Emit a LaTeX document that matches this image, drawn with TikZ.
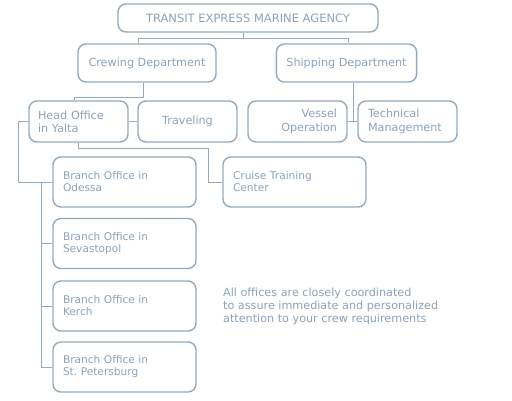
\documentclass[tikz,border=0pt]{standalone}
\usepackage{fontspec}
\setmainfont{DejaVu Sans}
\frenchspacing
\definecolor{linec}{HTML}{93AABE}
\definecolor{textc}{HTML}{8BA2B7}
\tikzset{
  box/.style={draw=linec, line width=1.4pt, rounded corners=8pt, text=textc, inner xsep=10pt, inner ysep=0pt},
  bigf/.style={font=\fontsize{11.2}{13.3}\selectfont},
  smallf/.style={font=\fontsize{10.6}{12}\selectfont},
  conn/.style={draw=linec, line width=1pt},
}
\begin{document}
\begin{tikzpicture}[x=1pt,y=-1pt]
\useasboundingbox (0,0) rectangle (512,400);
% boxes
\node[box, font=\fontsize{11.5}{13}\selectfont, minimum width=260pt, minimum height=28pt] (title) at (248,18) {TRANSIT EXPRESS MARINE AGENCY};
\node[box, bigf, minimum width=138pt, minimum height=38pt] (crew) at (147,63) {Crewing Department};
\node[box, bigf, minimum width=137pt, minimum height=38pt] (ship) at (346.5,63) {Shipping Department};
\node[box, bigf, text width=81pt, inner xsep=9pt, align=left, minimum height=41pt] (head) at (78.5,121.5) {Head Office\\in Yalta};
\node[box, bigf, minimum width=99pt, minimum height=41pt] (trav) at (187.5,121.5) {Traveling};
\node[box, bigf, text width=79pt, align=right, minimum height=41pt] (vessel) at (297.5,121.5) {Vessel\\Operation};
\node[box, bigf, text width=79pt, align=left, minimum height=41pt] (tech) at (407.5,121.5) {Technical\\Management};
\node[box, smallf, text width=123pt, align=left, minimum height=50pt] (cruise) at (294.5,182) {Cruise Training\\Center};
\node[box, smallf, text width=123pt, align=left, minimum height=50pt] (odessa) at (124.5,182) {Branch Office in\\Odessa};
\node[box, smallf, text width=123pt, align=left, minimum height=50pt] (sev) at (124.5,243.5) {Branch Office in\\Sevastopol};
\node[box, smallf, text width=123pt, align=left, minimum height=50pt] (kerch) at (124.5,306) {Branch Office in\\Kerch};
\node[box, smallf, text width=123pt, align=left, minimum height=50pt] (stp) at (124.5,367) {Branch Office in\\St. Petersburg};
\node[text=textc, font=\fontsize{11.2}{13}\selectfont, align=left, anchor=west, inner sep=0pt] (note) at (223,306) {All offices are closely coordinated\\to assure immediate and personalized\\attention to your crew requirements};
% connectors
\draw[conn] ([xshift=-5pt]title.south) -- ++(0,6) coordinate (tj);
\draw[conn] ([xshift=-9pt]crew.north) |- (tj) -| ([xshift=1.5pt]ship.north);
\draw[conn] ([xshift=-4pt]crew.south) -- ++(0,15) -| ([xshift=-4.5pt]head.north);
\draw[conn] (head) -- (trav);
\draw[conn] (vessel) -- (tech);
\draw[conn] ([xshift=6.5pt]ship.south) -- ([xshift=6.5pt]ship.south |- vessel.east);
\coordinate (cj) at (208,182);
\draw[conn] (head.south) -- ++(0,6) -| (cj) -- (cruise.west);
\draw[conn] (head.west) -- ++(-10,0) |- (odessa.west);
\coordinate (bj) at (41,0);
\draw[conn] (bj |- odessa.west) |- (stp.west);
\draw[conn] (bj |- sev.west) -- (sev.west);
\draw[conn] (bj |- kerch.west) -- (kerch.west);
\end{tikzpicture}
\end{document}
